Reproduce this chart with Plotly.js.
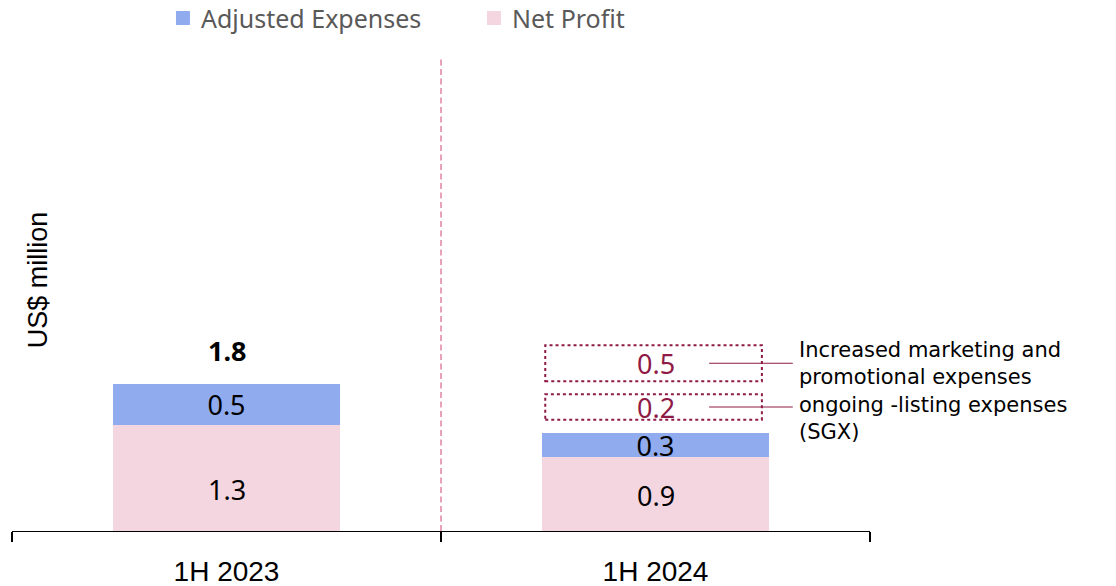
<!DOCTYPE html>
<html><head><meta charset="utf-8">
<script src="https://cdn.plot.ly/plotly-3.0.1.min.js"></script>
<style>html,body{margin:0;padding:0;background:#fff}#c{width:1116px;height:586px}</style>
</head><body><div id="c"></div>
<script>
const categories = ["1H 2023", "1H 2024"];
const netProfit = [1.3, 0.9];
const adjustedExpenses = [0.5, 0.3];
const totals = [1.8, null];
const bridgeValues = [0.2, 0.5];
const bridgeLabels = ["Increased marketing and", "promotional expenses", "ongoing -listing expenses", "(SGX)"];
const seriesNames = ["Adjusted Expenses", "Net Profit"];

const pink = "#F4D6E1", blue = "#91ABEF", red = "#8E1A45";
const fontMain = "Liberation Sans, Arial, sans-serif";
const fontText = "Noto Sans, sans-serif";

const traces = [
  {type:"bar", name:seriesNames[1], x:categories, y:netProfit, marker:{color:pink},
   width:0.527, hoverinfo:"none", showlegend:false},
  {type:"bar", name:seriesNames[0], x:categories, y:adjustedExpenses, marker:{color:blue},
   text:adjustedExpenses.map(v=>v.toFixed(1)), textposition:"inside", insidetextanchor:"middle", constraintext:"none",
   textfont:{size:27,color:"#000",family:fontText}, width:0.527, hoverinfo:"none", showlegend:false}
];

const shapes = [
  {type:"line", xref:"x", yref:"paper", x0:0.5, x1:0.5, y0:0, y1:1,
   line:{color:"#DC7098", width:1.3, dash:"6px,3.5px"}}
];
const annotations = [];
const npShift = [-12, -1];
netProfit.forEach((v,i)=>annotations.push({x:categories[i], y:v/2, xref:"x", yref:"y", yshift:npShift[i],
  text:v.toFixed(1), showarrow:false, font:{size:27,color:"#000",family:fontText}}));
totals.forEach((t,i)=>{ if(t!==null) annotations.push({x:categories[i], y:netProfit[i]+adjustedExpenses[i]+0.4, xref:"x", yref:"y",
  text:"<b>"+t.toFixed(1)+"</b>", showarrow:false, font:{size:27,color:"#000",family:fontText}}); });

const boxH = [0.31, 0.44];
const mids = [];
let base = netProfit[1] + adjustedExpenses[1] + 0.16;
bridgeValues.forEach((v,k)=>{
  const y0 = base, y1 = base + boxH[k];
  shapes.push({type:"rect", xref:"x", yref:"y", x0:0.743, x1:1.248, y0:y0, y1:y1,
    line:{color:red, width:2, dash:"dot"}, fillcolor:"rgba(0,0,0,0)"});
  const ym = (y0+y1)/2; mids.push(ym);
  shapes.push({type:"line", xref:"x", yref:"y", x0:1.125, x1:1.32, y0:ym, y1:ym, line:{color:red, width:1.2}});
  annotations.push({x:1, y:ym, xref:"x", yref:"y", text:v.toFixed(1), showarrow:false,
    font:{size:27,color:red,family:fontText}});
  base = y1 + 0.16;
});
// callout text block
annotations.push({x:1.34, y:(mids[0]+mids[1])/2, xref:"x", yref:"y", xanchor:"left", yanchor:"middle", xshift:-4, yshift:-6,
  text:bridgeLabels.join("<br>"), align:"left", showarrow:false,
  font:{size:21,color:"#000",family:"DejaVu Sans, sans-serif"}});

annotations.push({xref:"paper", yref:"paper", x:0, xshift:9, y:0.53, text:"US$ million", textangle:-90, showarrow:false,
  font:{size:27,color:"#000",family:fontMain}});

const legendItems = [{name:seriesNames[0], color:blue, x0:0.1911}, {name:seriesNames[1], color:pink, x0:0.5536}];
legendItems.forEach(it=>{
  shapes.push({type:"rect", xref:"paper", yref:"paper", x0:it.x0, x1:it.x0+0.0163, y0:1.0698, y1:1.0994,
    fillcolor:it.color, line:{width:0}});
  annotations.push({xref:"paper", yref:"paper", x:it.x0+0.0268, y:1.0846, xanchor:"left", yanchor:"middle",
    text:it.name, showarrow:false, font:{size:25,color:"#595959",family:fontText}});
});

const layout = {
  width:1116, height:586, barmode:"stack", bargap:0,
  margin:{l:12, r:246, t:58, b:55, autoexpand:false},
  paper_bgcolor:"#fff", plot_bgcolor:"#fff",
  showlegend:false,
  xaxis:{type:"category", range:[-0.5,1.5], showline:true, linecolor:"#000", linewidth:1.3,
    ticks:"outside", tickson:"boundaries", ticklen:10, tickcolor:"#000", tickwidth:1.3,
    tickfont:{size:28,color:"#000",family:"Liberation Sans Narrow, Arial Narrow, Liberation Sans, sans-serif"}, ticklabelstandoff:15,
    showgrid:false, zeroline:false, fixedrange:true},
  yaxis:{range:[0,5.78], showticklabels:false, showgrid:false, zeroline:false, showline:false, ticks:"", fixedrange:true},
  shapes:shapes, annotations:annotations
};

Plotly.newPlot("c", traces, layout, {displayModeBar:false, staticPlot:true});
</script></body></html>
